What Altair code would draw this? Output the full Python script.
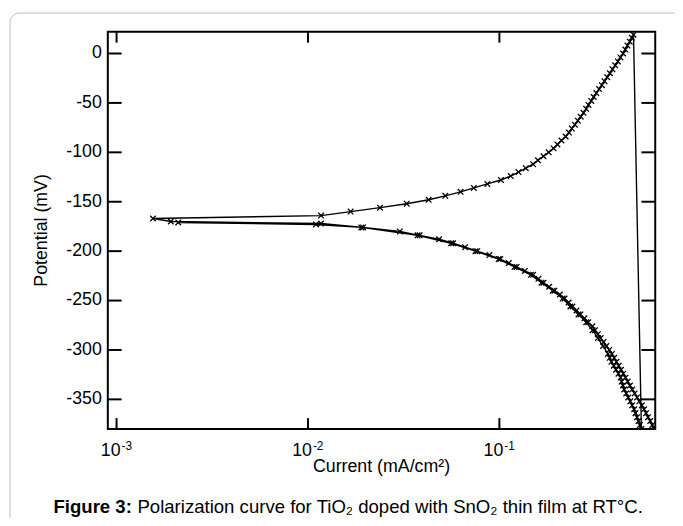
import altair as alt
import pandas as pd

# ---------------- data ----------------
# outer cathodic branch (from -380 mV up to Ecorr)
outer_E = [-380, -376, -372, -368, -364, -360, -356, -352, -348, -344, -340, -336, -332, -328,
           -324, -320, -316, -312, -308, -304, -300, -296, -292, -288, -284, -280, -276, -272,
           -268, -264, -260, -256, -252, -248, -244, -240, -236, -232, -228, -224, -220, -216,
           -212, -208, -204, -200, -196, -192, -188, -184, -180, -176, -172, -170]
outer_i = [0.644, 0.629, 0.614, 0.598, 0.584, 0.570, 0.555, 0.539, 0.524, 0.509, 0.494, 0.481,
           0.468, 0.456, 0.444, 0.432, 0.420, 0.409, 0.398, 0.387, 0.375, 0.362, 0.350, 0.338,
           0.327, 0.316, 0.306, 0.291, 0.278, 0.265, 0.253, 0.241, 0.230, 0.219, 0.207, 0.194,
           0.182, 0.170, 0.160, 0.150, 0.136, 0.123, 0.112, 0.101, 0.0887, 0.0767, 0.0662,
           0.0573, 0.0484, 0.0383, 0.0302, 0.0194, 0.0117, 0.00192]

# anodic branch (Ecorr up to +19 mV)
anod_E = [-167, -164, -160, -156, -152, -148, -144, -140, -136, -132, -128, -124, -120, -116,
          -112, -108, -104, -100, -96, -92, -88, -84, -80, -76, -72, -68, -64, -60, -56, -52,
          -48, -44, -40, -36, -32, -28, -24, -20, -16, -12, -8, -4, 0, 4, 8, 12, 16, 19]
anod_i = [0.00155, 0.0117, 0.0167, 0.0238, 0.0328, 0.0427, 0.0522, 0.0627, 0.0735, 0.0865,
          0.1019, 0.1146, 0.1259, 0.1374, 0.150, 0.159, 0.170, 0.181, 0.192, 0.201, 0.211,
          0.222, 0.231, 0.239, 0.248, 0.257, 0.266, 0.275, 0.284, 0.292, 0.302, 0.311, 0.321,
          0.332, 0.343, 0.354, 0.366, 0.378, 0.390, 0.403, 0.416, 0.429, 0.443, 0.455, 0.467,
          0.480, 0.492, 0.502]

# inner cathodic curve (return trace)
inner_E = [-380, -376, -372, -368, -364, -360, -356, -352, -348, -344, -340, -336, -332, -328,
           -324, -320, -316, -312, -308, -304, -296, -288, -280, -272, -264, -256, -248, -240,
           -232, -224, -216, -208, -200, -192, -184, -176, -173, -171]
inner_i = [0.552, 0.542, 0.533, 0.524, 0.514, 0.506, 0.494, 0.483, 0.471, 0.460, 0.449, 0.442,
           0.435, 0.430, 0.419, 0.407, 0.396, 0.385, 0.377, 0.369, 0.348, 0.327, 0.307, 0.284,
           0.259, 0.235, 0.214, 0.190, 0.166, 0.146, 0.120, 0.0991, 0.0750, 0.0560, 0.0374,
           0.0190, 0.0110, 0.0021]

x_ticks = [0.001, 0.01, 0.1]
x_base = ["10", "10", "10"]
x_exp = ["-3", "-2", "-1"]
y_ticks = [0, -50, -100, -150, -200, -250, -300, -350]
y_labels = ["0", "-50", "-100", "-150", "-200", "-250", "-300", "-350"]

x_title = "Current (mA/cm²)"
y_title = "Potential (mV)"
cap_bold = "Figure 3:"
cap_rest = "Polarization curve for TiO₂ doped with SnO₂ thin film at RT°C."

# ---------------- build ----------------
rows = []
k = 0
for Es, Is in [(outer_E, outer_i), (anod_E, anod_i), (inner_E, inner_i)]:
    for e, i in zip(Es, Is):
        rows.append({"E": e, "I": i, "k": k})
        k += 1
df = pd.DataFrame(rows)

W, H = 554, 402
F = "Liberation Sans"

xs = alt.Scale(type="log", domain=[0.0009, 0.652], nice=False)
ys = alt.Scale(domain=[-380, 22], nice=False, zero=False)
X = alt.X("I:Q", scale=xs, axis=None)
Y = alt.Y("E:Q", scale=ys, axis=None)

one = pd.DataFrame({"a": [0]})

border = alt.Chart(one).mark_rect(
    fill="white", fillOpacity=0, stroke="#bdbdbd", strokeWidth=1, cornerRadius=10
).encode(x=alt.value(-99), x2=alt.value(581), y=alt.value(-19), y2=alt.value(503))

line = alt.Chart(df).mark_line(color="black", strokeWidth=1.4, clip=True).encode(
    x=X, y=Y, order="k:Q")
pts = alt.Chart(df).mark_point(
    shape="M-1,-1L1,1M-1,1L1,-1", size=32, color="black", strokeWidth=1.3,
    filled=False, opacity=1, clip=True
).encode(x=X, y=Y)

xt = pd.DataFrame({"I": x_ticks, "base": x_base, "exp": x_exp})
yt = pd.DataFrame({"E": y_ticks, "lab": y_labels})

rule = dict(color="black", strokeWidth=2)
tick_b = alt.Chart(xt).mark_rule(**rule).encode(x=X, y=alt.value(H), y2=alt.value(H - 11))
tick_t = alt.Chart(xt).mark_rule(**rule).encode(x=X, y=alt.value(0), y2=alt.value(11))
tick_l = alt.Chart(yt).mark_rule(**rule).encode(y=Y, x=alt.value(0), x2=alt.value(14))
tick_r = alt.Chart(yt).mark_rule(**rule).encode(y=Y, x=alt.value(W), x2=alt.value(W - 14))

xlab = alt.Chart(xt).mark_text(
    align="right", baseline="alphabetic", dx=4, fontSize=18, font=F, color="black"
).encode(x=X, y=alt.value(H + 27), text="base:N")
xsup = alt.Chart(xt).mark_text(
    align="left", baseline="alphabetic", dx=5, fontSize=12, font=F, color="black"
).encode(x=X, y=alt.value(H + 21), text="exp:N")
ylab = alt.Chart(yt).mark_text(
    align="right", baseline="middle", fontSize=18, font=F, color="black"
).encode(y=Y, x=alt.value(-6), text="lab:N")

xtit = alt.Chart(one).mark_text(
    align="center", baseline="alphabetic", fontSize=18, font=F, color="black", text=x_title
).encode(x=alt.value(W / 2), y=alt.value(446))
ytit = alt.Chart(one).mark_text(
    align="center", baseline="middle", fontSize=18, font=F, color="black", angle=270, text=y_title
).encode(x=alt.value(-67), y=alt.value(H / 2))

cap1 = alt.Chart(one).mark_text(
    align="left", baseline="alphabetic", fontSize=18.8, font=F, fontWeight="bold",
    color="black", text=cap_bold
).encode(x=alt.value(-55), y=alt.value(487))
cap2 = alt.Chart(one).mark_text(
    align="left", baseline="alphabetic", fontSize=18.8, font=F, color="black", text=cap_rest
).encode(x=alt.value(30), y=alt.value(487))

chart = alt.layer(
    border, line, pts, tick_b, tick_t, tick_l, tick_r, xlab, xsup, ylab, xtit, ytit, cap1, cap2
).properties(
    width=W, height=H,
    autosize=alt.AutoSizeParams(type="none"),
    padding={"left": 101, "top": 21, "right": 20, "bottom": 87},
    background="white",
).configure_view(stroke="black", strokeWidth=2)

chart.save("out.html", embed_options={"renderer": "svg", "actions": False})
